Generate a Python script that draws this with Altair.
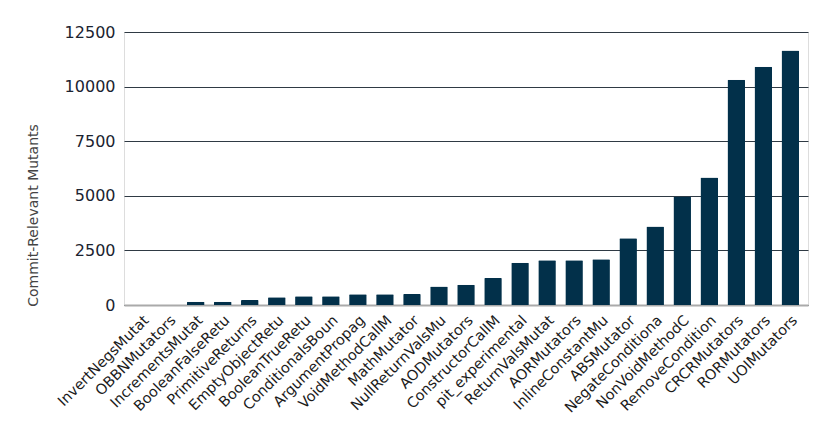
import altair as alt
import pandas as pd

categories = [
    "InvertNegsMutat", "OBBNMutators", "IncrementsMutat", "BooleanFalseRetu",
    "PrimitiveReturns", "EmptyObjectRetu", "BooleanTrueRetu", "ConditionalsBoun",
    "ArgumentPropag", "VoidMethodCallM", "MathMutator", "NullReturnValsMu",
    "AODMutators", "ConstructorCallM", "pit_experimental", "ReturnValsMutat",
    "AORMutators", "InlineConstantMu", "ABSMutator", "NegateConditiona",
    "NonVoidMethodC", "RemoveCondition", "CRCRMutators", "RORMutators", "UOIMutators",
]
values = [
    0, 0, 150, 150,
    230, 350, 400, 400,
    490, 490, 505, 845,
    930, 1235, 1940, 2045,
    2045, 2095, 3055, 3590,
    4965, 5835, 10315, 10910, 11655,
]
y_ticks = [0, 2500, 5000, 7500, 10000, 12500]

df = pd.DataFrame({"mutator": categories, "count": values})

font = "DejaVu Sans"

chart = (
    alt.Chart(df)
    .mark_bar(color="#02304a", cornerRadiusTopLeft=1, cornerRadiusTopRight=1)
    .encode(
        x=alt.X(
            "mutator:N",
            sort=categories,
            title=None,
            scale=alt.Scale(paddingInner=0.35, paddingOuter=0.33),
            axis=alt.Axis(
                labelAngle=-45,
                labelFont=font,
                labelFontSize=14.5,
                labelColor="#1b1b1b",
                ticks=False,
                domain=True,
                domainColor="#aaaaaa",
                domainWidth=2,
                labelPadding=8,
            ),
        ),
        y=alt.Y(
            "count:Q",
            title="Commit-Relevant Mutants",
            scale=alt.Scale(domain=[0, 12500], nice=False),
            axis=alt.Axis(
                values=y_ticks,
                format="d",
                labelFont=font,
                labelFontSize=16,
                labelColor="#1b2330",
                labelPadding=9,
                ticks=False,
                domain=False,
                grid=True,
                gridColor="#2f3a44",
                gridWidth=1,
                titleFont=font,
                titleFontSize=14,
                titleFontWeight="normal",
                titleColor="#444444",
                titleX=-91,
                titleY=183,
                titleAlign="center",
                titleBaseline="middle",
                titleAngle=-90,
            ),
        ),
    )
    .properties(
        width=684,
        height=273,
        autosize=alt.AutoSizeParams(type="none"),
        padding={"left": 116, "top": 24, "right": 14, "bottom": 118},
    )
    .configure_view(stroke=None)
    .configure(background="white")
)

chart.save("out.html", embed_options={"renderer": "svg", "actions": False})
